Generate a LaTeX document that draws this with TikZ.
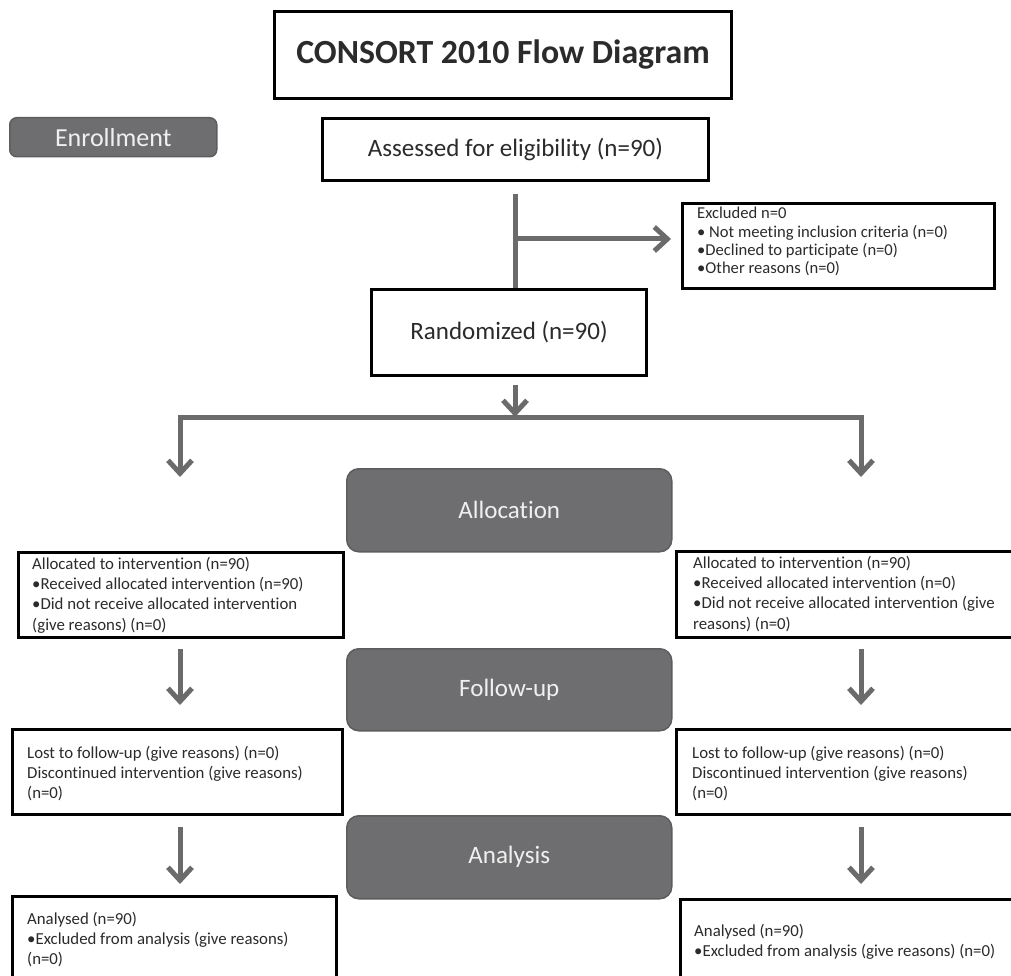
\documentclass[tikz,border=0pt]{standalone}
\usepackage{fontspec}
\setmainfont{Carlito}[Ligatures=NoCommon]
\usetikzlibrary{arrows.meta}
\definecolor{linegray}{HTML}{6B6B6B}
\definecolor{phasefill}{HTML}{6E6E70}
\definecolor{txt}{HTML}{2B2B2B}
\begin{document}
\begin{tikzpicture}[x=1pt,y=-1pt,
  box/.style={draw=black, line width=3pt, fill=white, inner sep=0pt, anchor=north west, text=txt},
  phase/.style={draw=phasefill!85!black, line width=1.5pt, fill=phasefill, rounded corners=12pt, inner sep=0pt, anchor=north west, text=white!94!black, font=\fontsize{25}{30}\selectfont},
  small/.style={anchor=north west, align=left, inner sep=0pt, text=txt, font=\fontsize{16.8}{20.2}\selectfont},
  big/.style={font=\fontsize{25}{30}\selectfont},
  ln/.style={draw=linegray, line width=5pt},
  arr/.style={ln, -{Straight Barb[length=13pt,width=24pt]}},
]
\useasboundingbox (0,0) rectangle (1011,976);
\fill[white] (0,0) rectangle (1011,976);
\clip (0,0) rectangle (1011,976);

% header and enrollment
\node[box, minimum width=457pt, minimum height=87pt, font=\bfseries\fontsize{33.8}{40}\selectfont] (title) at (273,10) {CONSORT 2010 Flow Diagram};
\node[phase, minimum width=207pt, minimum height=39pt, rounded corners=7pt, font=\fontsize{26}{30}\selectfont] (enroll) at (9,117) {Enrollment};
\node[box, big, minimum width=386pt, minimum height=62pt] (assess) at (321,117) {Assessed for eligibility (n=90)};

\node[box, minimum width=312pt, minimum height=85pt] (excl) at (681,202) {};
\node[small, font=\fontsize{16.6}{18.4}\selectfont] (exclT) at (697,207) {Excluded n=0\\• Not meeting inclusion criteria (n=0)\\•Declined to participate (n=0)\\•Other reasons (n=0)};

\node[box, big, minimum width=275pt, minimum height=86pt] (rand) at (370,288) {Randomized (n=90)};

% phases
\node[phase, minimum width=325pt, minimum height=83pt] (alloc) at (346,468) {Allocation};
\node[phase, minimum width=325pt, minimum height=82pt] (follow) at (346,648) {Follow-up};
\node[phase, minimum width=325pt, minimum height=83pt] (analysis) at (346,815) {Analysis};

% left column
\node[box, minimum width=325pt, minimum height=85pt] (allocL) at (17,551) {};
\node[small] (allocLT) at (32,557) {Allocated to intervention (n=90)\\•Received allocated intervention (n=90)\\•Did not receive allocated intervention\\(give reasons) (n=0)};
\node[box, minimum width=330pt, minimum height=85pt] (lostL) at (11,728) {};
\node[small] (lostLT) at (27,746) {Lost to follow-up (give reasons) (n=0)\\Discontinued intervention (give reasons)\\(n=0)};
\node[box, minimum width=324pt, minimum height=120pt] (anL) at (11,895) {};
\node[small] (anLT) at (27,912) {Analysed (n=90)\\•Excluded from analysis (give reasons)\\(n=0)};

% right column
\node[box, minimum width=372pt, minimum height=86pt] (allocR) at (675,550) {};
\node[small] (allocRT) at (693,556) {Allocated to intervention (n=90)\\•Received allocated intervention (n=0)\\•Did not receive allocated intervention (give\\reasons) (n=0)};
\node[box, minimum width=372pt, minimum height=85pt] (lostR) at (675,728) {};
\node[small] (lostRT) at (692,746) {Lost to follow-up (give reasons) (n=0)\\Discontinued intervention (give reasons)\\(n=0)};
\node[box, minimum width=364pt, minimum height=120pt] (anR) at (679,898) {};
\node[small] (anRT) at (694,924) {Analysed (n=90)\\•Excluded from analysis (give reasons) (n=0)};

% connectors
\coordinate (split) at (515,417);
\coordinate (brL) at (180,417);
\coordinate (brR) at (861,417);
\coordinate (tipL) at (180,477);
\coordinate (tipR) at (861,477);
\coordinate (exj) at (515,239);

\draw[ln] ([yshift=-12pt]assess.south -| split) -- (rand.north -| split);
\draw[arr, shorten >=10pt] (exj) -- (exj -| excl.west);
\draw[arr] ([yshift=-8pt]rand.south -| split) -- (split);
\draw[ln] (brL) -- (brR);
\draw[arr] ([yshift=2.5pt]brL) -- (tipL);
\draw[arr] ([yshift=2.5pt]brR) -- (tipR);

\draw[arr] ([yshift=-10pt]allocL.south -| brL) -- ([yshift=23pt]lostL.north -| brL);
\draw[arr] ([yshift=-11pt]lostL.south -| brL) -- ([yshift=11pt]anL.north -| brL);
\draw[arr] ([yshift=-10pt]allocR.south -| brR) -- ([yshift=23pt]lostR.north -| brR);
\draw[arr] ([yshift=-11pt]lostR.south -| brR) -- ([yshift=14pt]anR.north -| brR);
\end{tikzpicture}
\end{document}
